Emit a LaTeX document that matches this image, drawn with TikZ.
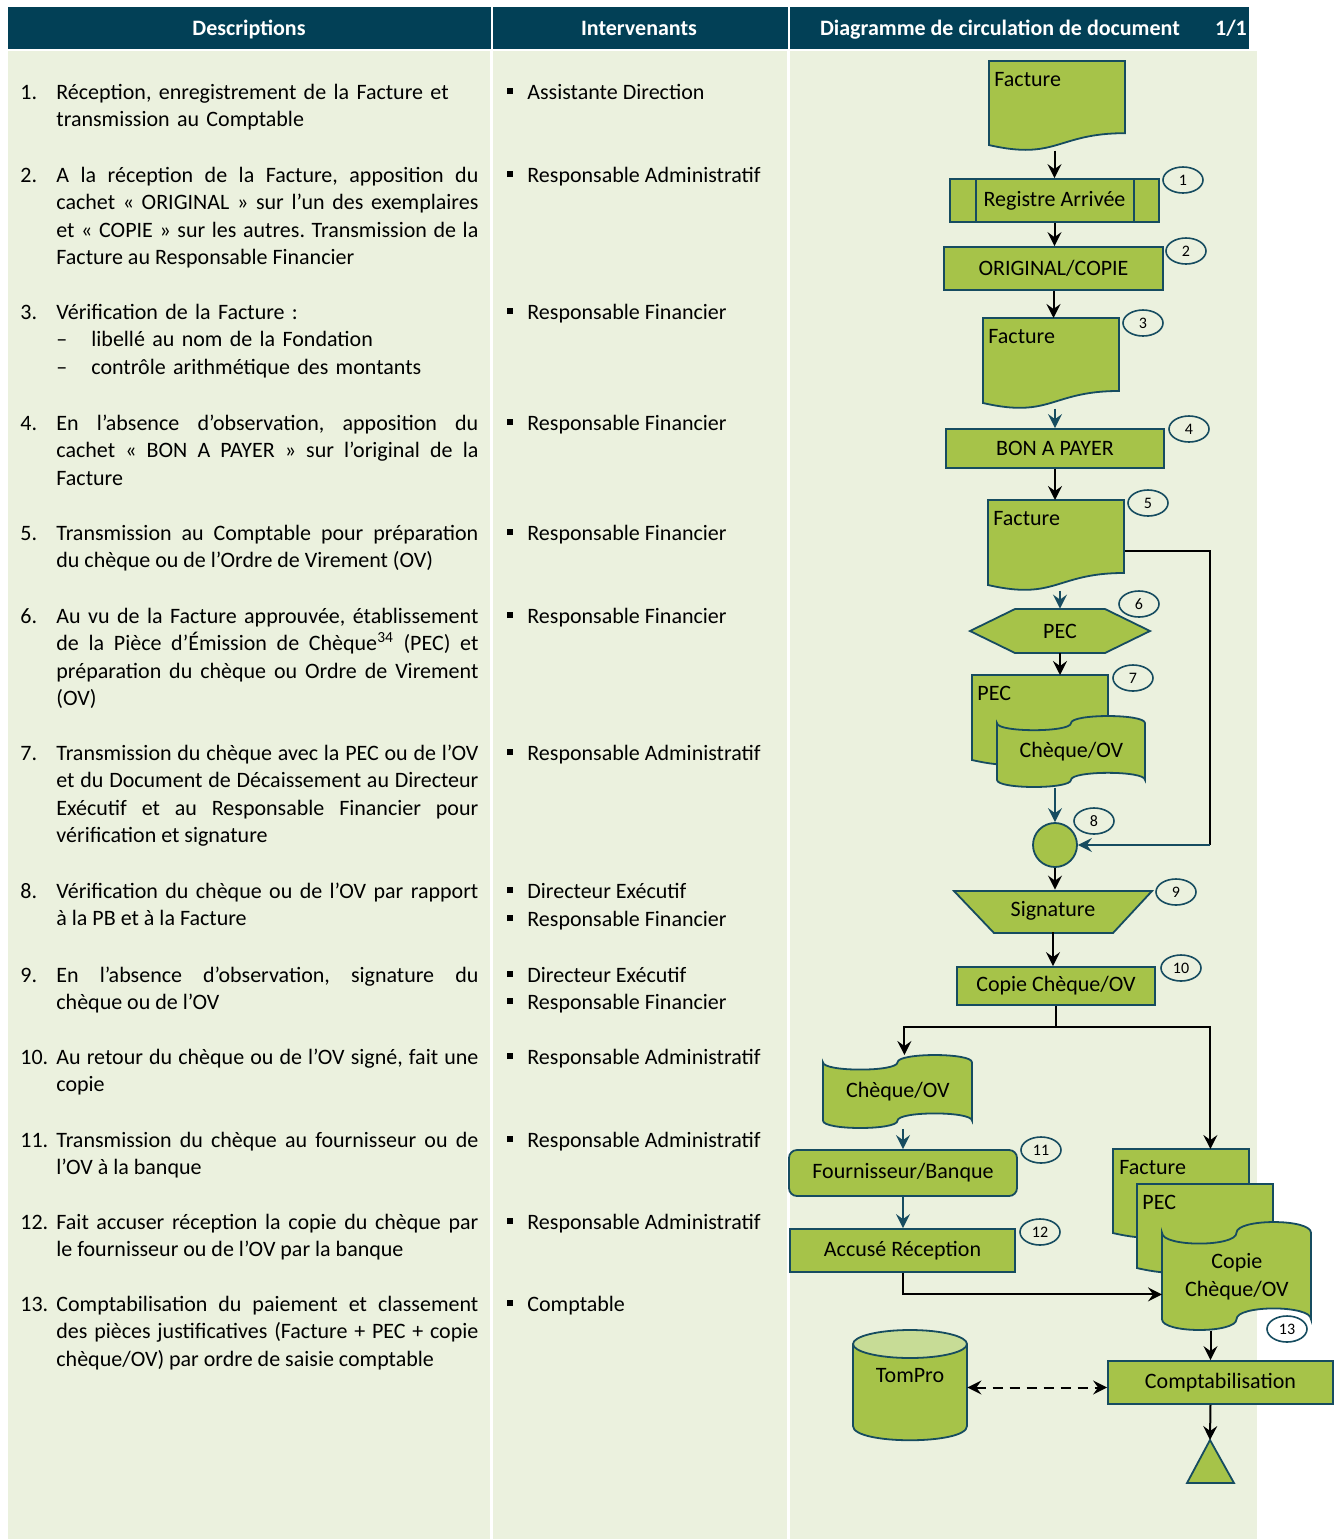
\documentclass[tikz,border=0pt]{standalone}
\usepackage{fontspec}
\setmainfont{Carlito}
\usetikzlibrary{shapes.geometric,arrows.meta,calc}

\definecolor{hdrblue}{RGB}{2,64,86}
\definecolor{bggreen}{RGB}{235,241,222}
\definecolor{boxgreen}{RGB}{166,195,73}
\definecolor{topgreen}{RGB}{199,220,150}
\definecolor{edgeteal}{RGB}{22,76,96}

\tikzset{
  shp/.style={draw=edgeteal, fill=boxgreen, line width=0.9pt},
  box/.style={shp, inner sep=0pt},
  num/.style={ellipse, draw=edgeteal, line width=0.8pt, minimum width=20pt, minimum height=13pt, inner sep=0pt, font=\fontsize{8}{9}\selectfont},
  flow/.style={-{Stealth[length=7pt,width=7pt,inset=2.5pt]}, line width=1pt},
  tflow/.style={flow, draw=edgeteal},
  twoway/.style={{Stealth[length=7pt,width=7pt,inset=2.5pt]}-{Stealth[length=7pt,width=7pt,inset=2.5pt]}, line width=1pt, dash pattern=on 5pt off 3.5pt},
  desc/.style={anchor=base west, inner sep=0pt, text width=211pt, align=justify},
  who/.style={anchor=base west, inner sep=0pt},
  hdr/.style={text=white, font=\bfseries, inner sep=0pt, anchor=base}
}

\begin{document}
\fontsize{11}{13.8}\selectfont\frenchspacing
\begin{tikzpicture}[x=0.5pt, y=-0.5pt]
	\useasboundingbox (0,0) rectangle (1339,1539);
	
	% document shape: name, x, y, width, height
	\def\docshape#1#2#3#4#5{%
		\draw[shp] (#2,#3) -- ({#2+#4},#3) -- ({#2+#4},{#3+0.802*#5})
		.. controls ({#2+0.5*#4},{#3+0.802*#5}) and ({#2+0.5*#4},{#3+1.107*#5}) .. (#2,{#3+0.934*#5}) -- cycle;
		\node[inner sep=0pt, anchor=north west, minimum width={#4*0.5pt}, minimum height={#5*0.494pt}] (#1) at (#2,#3) {};
	}
	% punched tape shape: name, x, y, width, height, text
	\def\tapeshape#1#2#3#4#5#6{%
		\draw[shp] (#2,{#3+0.1*#5})
		.. controls (#2,{#3+0.233*#5}) and ({#2+0.5*#4},{#3+0.233*#5}) .. ({#2+0.5*#4},{#3+0.1*#5})
		.. controls ({#2+0.5*#4},{#3-0.033*#5}) and ({#2+#4},{#3-0.033*#5}) .. ({#2+#4},{#3+0.1*#5})
		-- ({#2+#4},{#3+0.9*#5})
		.. controls ({#2+#4},{#3+0.767*#5}) and ({#2+0.5*#4},{#3+0.767*#5}) .. ({#2+0.5*#4},{#3+0.9*#5})
		.. controls ({#2+0.5*#4},{#3+1.033*#5}) and (#2,{#3+1.033*#5}) .. (#2,{#3+0.9*#5}) -- cycle;
		\node[inner sep=0pt, align=center, anchor=north west, minimum width={#4*0.5pt}, minimum height={#5*0.5pt}] (#1) at (#2,#3) {#6};
	}
	\def\bul{\makebox[10pt][l]{\rule[2.5pt]{3pt}{3pt}}}
	
	% header row
	\fill[hdrblue] (8,7) rectangle (1249,49);
	\draw[white, line width=1pt] (491.5,7) -- (491.5,49) (788.5,7) -- (788.5,49);
	\node[hdr] (h1) at (249,35) {Descriptions};
	\node[hdr] (h2) at (639,35) {Intervenants};
	\node[hdr] (h3) at (1000,35) {Diagramme de circulation de document};
	\node[hdr] (h4) at (1231,35) {1/1};
	
	% column backgrounds
	\fill[bggreen] (8,51) rectangle (490,1539);
	\fill[bggreen] (493,51) rectangle (787,1539);
	\fill[bggreen] (790,51) rectangle (1257,1539);
	
	% descriptions
	\node[who] (n1) at (20,99) {1.};
	\node[desc, align=left] (d1) at (56,99) {Réception, enregistrement de la Facture et\newline transmission au Comptable};
	\node[who] (n2) at (20,182) {2.};
	\node[desc] (d2) at (56,182) {A la réception de la Facture, apposition du\linebreak cachet «~ORIGINAL~» sur l’un des exemplaires\linebreak et «~COPIE~» sur les autres. Transmission de la\linebreak Facture au Responsable Financier};
	\node[who] (n3) at (20,319) {3.};
	\node[desc, align=left] (d3) at (56,319) {Vérification de la Facture :\newline\makebox[17.5pt][l]{–}libellé au nom de la Fondation\newline\makebox[17.5pt][l]{–}contrôle arithmétique des montants};
	\node[who] (n4) at (20,430) {4.};
	\node[desc] (d4) at (56,430) {En l’absence d’observation, apposition du\linebreak cachet «~BON A PAYER~» sur l’original de la\linebreak Facture};
	\node[who] (n5) at (20,540) {5.};
	\node[desc] (d5) at (56,540) {Transmission au Comptable pour préparation\linebreak du chèque ou de l’Ordre de Virement (OV)};
	\node[who] (n6) at (20,623) {6.};
	\node[desc] (d6) at (56,623) {Au vu de la Facture approuvée, établissement\linebreak de la Pièce d’Émission de Chèque\textsuperscript{34} (PEC) et\linebreak préparation du chèque ou Ordre de Virement\linebreak (OV)};
	\node[who] (n7) at (20,760) {7.};
	\node[desc] (d7) at (56,760) {Transmission du chèque avec la PEC ou de l’OV\linebreak et du Document de Décaissement au Directeur\linebreak Exécutif et au Responsable Financier pour\linebreak vérification et signature};
	\node[who] (n8) at (20,898) {8.};
	\node[desc] (d8) at (56,898) {Vérification du chèque ou de l’OV par rapport\linebreak à la PB et à la Facture};
	\node[who] (n9) at (20,982) {9.};
	\node[desc] (d9) at (56,982) {En l’absence d’observation, signature du\linebreak chèque ou de l’OV};
	\node[who] (n10) at (20,1064) {10.};
	\node[desc] (d10) at (56,1064) {Au retour du chèque ou de l’OV signé, fait une\linebreak copie};
	\node[who] (n11) at (20,1147) {11.};
	\node[desc] (d11) at (56,1147) {Transmission du chèque au fournisseur ou de\linebreak l’OV à la banque};
	\node[who] (n12) at (20,1229) {12.};
	\node[desc] (d12) at (56,1229) {Fait accuser réception la copie du chèque par\linebreak le fournisseur ou de l’OV par la banque};
	\node[who] (n13) at (20,1311) {13.};
	\node[desc] (d13) at (56,1311) {Comptabilisation du paiement et classement\linebreak des pièces justificatives (Facture + PEC + copie\linebreak chèque/OV) par ordre de saisie comptable};
	
	% intervenants
	\node[who] (w1) at (507,99) {\bul Assistante Direction};
	\node[who] (w2) at (507,182) {\bul Responsable Administratif};
	\node[who] (w3) at (507,319) {\bul Responsable Financier};
	\node[who] (w4) at (507,430) {\bul Responsable Financier};
	\node[who] (w5) at (507,540) {\bul Responsable Financier};
	\node[who] (w6) at (507,623) {\bul Responsable Financier};
	\node[who] (w7) at (507,760) {\bul Responsable Administratif};
	\node[who] (w8a) at (507,898) {\bul Directeur Exécutif};
	\node[who] (w8b) at (507,926) {\bul Responsable Financier};
	\node[who] (w9a) at (507,982) {\bul Directeur Exécutif};
	\node[who] (w9b) at (507,1009) {\bul Responsable Financier};
	\node[who] (w10) at (507,1064) {\bul Responsable Administratif};
	\node[who] (w11) at (507,1147) {\bul Responsable Administratif};
	\node[who] (w12) at (507,1229) {\bul Responsable Administratif};
	\node[who] (w13) at (507,1311) {\bul Comptable};
	
	% flow chart shapes
	\docshape{fac1}{989}{61}{136}{90}
	\node[who] (fac1t) at (994,86) {Facture};
	
	\node[box, minimum width=104.5pt, minimum height=21.5pt] (reg) at (1054.5,200.5) {Registre Arrivée};
	\draw[edgeteal, line width=0.9pt] ([xshift=13.5pt]reg.north west) -- ([xshift=13.5pt]reg.south west)
	([xshift=-13pt]reg.north east) -- ([xshift=-13pt]reg.south east);
	
	\node[box, minimum width=109.5pt, minimum height=21.5pt] (orig) at (1053.5,268.5) {ORIGINAL/COPIE};
	
	\docshape{fac3}{983}{318}{136}{91}
	\node[who] (fac3t) at (988,343) {Facture};
	
	\node[box, minimum width=109pt, minimum height=19.5pt] (bon) at (1055,448.5) {BON A PAYER};
	
	\docshape{fac5}{988}{500}{136}{91}
	\node[who] (fac5t) at (993,525) {Facture};
	
	% PEC hexagon
	\draw[shp] (970,631) -- (1015,609) -- (1105,609) -- (1150,631) -- (1105,653) -- (1015,653) -- cycle;
	\node[inner sep=0pt, minimum width=90pt, minimum height=22pt] (pec) at (1060,631) {PEC};
	
	% PEC + cheque
	\docshape{pec7}{972}{675}{136}{91}
	\node[who] (pec7t) at (977,700) {PEC};
	\tapeshape{chq7}{997}{716}{148}{71}{Chèque/OV}
	
	\node[shp, circle, minimum size=22pt, inner sep=0pt] (join) at (1055,845) {};
	
	% signature
	\draw[shp] (954,891) -- (1152,891) -- (1113,933) -- (994,933) -- cycle;
	\node[inner sep=0pt, minimum width=99pt, minimum height=21pt] (sig) at (1053,911) {Signature};
	
	\node[box, minimum width=99pt, minimum height=19pt] (copie) at (1056,986) {Copie Chèque/OV};
	
	% left branch
	\tapeshape{chq11}{823}{1055}{149}{73}{Chèque/OV}
	\node[box, rounded corners=4pt, minimum width=114pt, minimum height=23pt] (four) at (903,1173) {Fournisseur/Banque};
	\node[box, minimum width=112.5pt, minimum height=21.5pt] (acc) at (902.5,1250.5) {Accusé Réception};
	
	% right branch
	\docshape{fac13}{1113}{1149}{136}{90}
	\node[who] (fac13t) at (1119,1174) {Facture};
	\docshape{pec13}{1137}{1184}{136}{90}
	\node[who] (pec13t) at (1142,1209) {PEC};
	\tapeshape{cop13}{1162}{1222}{149}{108}{Copie\\Chèque/OV}
	
	\node[box, minimum width=112.5pt, minimum height=21.5pt] (compta) at (1220.5,1382.5) {Comptabilisation};
	
	% TomPro database
	\draw[shp] (853,1344) -- (853,1426) .. controls (853,1445) and (967,1445) .. (967,1426) -- (967,1344);
	\draw[shp, fill=topgreen] (910,1344) ellipse [x radius=57, y radius=14];
	\node[inner sep=0pt, minimum width=57pt] (db) at (910,1375) {TomPro};
	
	% end triangle
	\draw[shp] (1210,1440) -- (1234,1483) -- (1187,1483) -- cycle;
	\coordinate (stop) at (1210,1440);
	
	% step numbers
	\node[num] (c1) at (1183,180) {1};
	\node[num] (c2) at (1186,251) {2};
	\node[num] (c3) at (1143,323) {3};
	\node[num] (c4) at (1189,429) {4};
	\node[num] (c5) at (1148,503) {5};
	\node[num] (c6) at (1139,604) {6};
	\node[num] (c7) at (1133,678) {7};
	\node[num] (c8) at (1094,821) {8};
	\node[num] (c9) at (1176,892) {9};
	\node[num] (c10) at (1181,968) {10};
	\node[num] (c11) at (1041,1150) {11};
	\node[num] (c12) at (1040,1232) {12};
	\node[num] (c13) at (1287,1329) {13};
	
	% connectors
	\draw[flow] (reg.north |- fac1.south) -- (reg.north);
	\draw[flow] (reg.south) -- (reg.south |- orig.north);
	\draw[flow] (orig.south) -- (orig.south |- fac3.north);
	\draw[tflow] (bon.north |- fac3.south) -- (bon.north);
	\draw[flow] (bon.south) -- (bon.south |- fac5.north);
	\draw[tflow] (pec.north |- fac5.south) -- (pec.north);
	\draw[flow] (pec.south) -- (pec.south |- pec7.north);
	\draw[tflow] (join.north |- chq7.south) -- (join.north);
	\coordinate (turn) at (1210,845);
	\draw[line width=1pt] ([yshift=-3pt]fac5.east) -| (turn);
	\draw[tflow] (turn) -- (join.east);
	\draw[flow] (join.south) -- (join.south |- sig.north);
	\draw[flow] (sig.south) -- (sig.south |- copie.north);
	
	\coordinate (split) at (1056,1027);
	\draw[line width=1pt] (copie.south) -- (split);
	\draw[flow] (split) -| ([xshift=3.25pt]chq11.north);
	\draw[flow] (split) -| ([xshift=14.5pt]fac13.north);
	\draw[tflow] (four.north |- chq11.south) -- (four.north);
	\draw[tflow] (four.south) -- (four.south |- acc.north);
	\draw[flow] (acc.south) |- ([yshift=-9pt]cop13.west);
	\draw[flow] ([xshift=-5pt]compta.north |- cop13.south) -- ([xshift=-5pt]compta.north);
	\draw[flow] ([xshift=-5pt]compta.south) -- (stop);
	\draw[twoway] ([yshift=-2.5pt]db.east |- compta.west) -- ([yshift=-2.5pt]compta.west);
\end{tikzpicture}
\end{document}
